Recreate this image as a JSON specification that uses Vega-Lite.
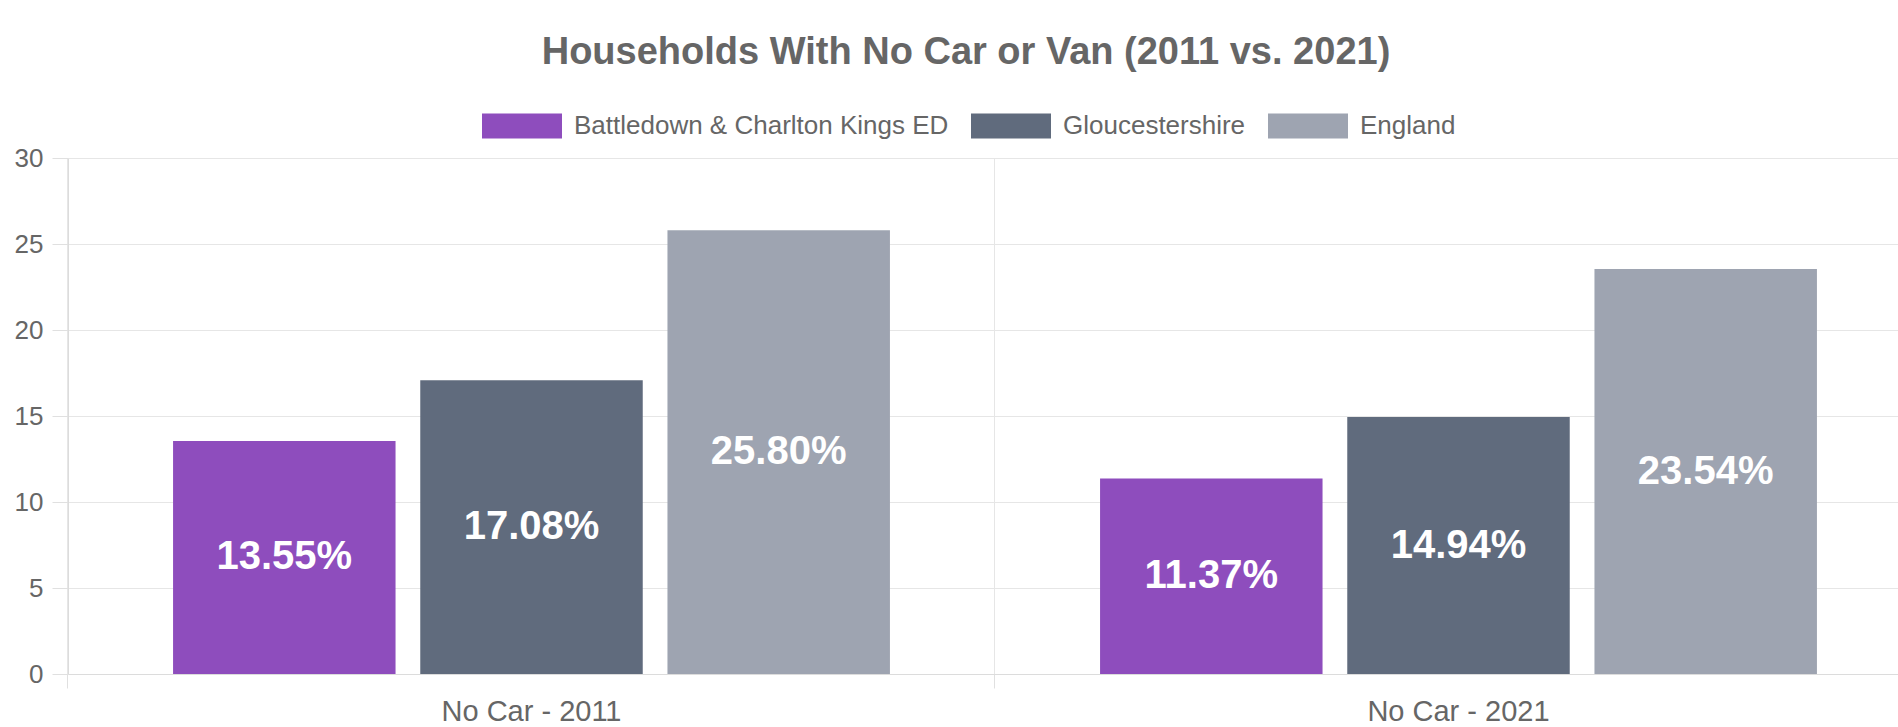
{
  "$schema": "https://vega.github.io/schema/vega-lite/v6.json",
  "autosize": {"type": "none"},
  "padding": {"left": 68, "top": 158, "right": 0, "bottom": 53},
  "width": 1830,
  "height": 516,
  "background": "white",
  "title": {
    "text": "Households With No Car or Van (2011 vs. 2021)",
    "anchor": "middle",
    "frame": "group",
    "font": "Liberation Sans",
    "fontSize": 38,
    "fontWeight": "bold",
    "color": "#666666",
    "dx": -17,
    "offset": 14
  },
  "data": {
    "values": [
      {"category": "No Car - 2011", "area": "Battledown & Charlton Kings ED", "value": 13.55},
      {"category": "No Car - 2011", "area": "Gloucestershire", "value": 17.08},
      {"category": "No Car - 2011", "area": "England", "value": 25.80},
      {"category": "No Car - 2021", "area": "Battledown & Charlton Kings ED", "value": 11.37},
      {"category": "No Car - 2021", "area": "Gloucestershire", "value": 14.94},
      {"category": "No Car - 2021", "area": "England", "value": 23.54}
    ]
  },
  "encoding": {
    "x": {
      "field": "category",
      "type": "nominal",
      "sort": null,
      "scale": {"paddingInner": 0.2, "paddingOuter": 0.1, "range": [0, 1854]},
      "axis": {
        "title": null,
        "labelAngle": 0,
        "bandPosition": -0.125,
        "grid": true,
        "gridColor": "#e6e6e6",
        "ticks": true,
        "tickSize": 14,
        "tickColor": "#e0e0e0",
        "domainColor": "#dcdcdc",
        "labelFont": "Liberation Sans",
        "labelFontSize": 29,
        "labelColor": "#666666",
        "labelBaseline": "alphabetic",
        "labelPadding": 32,
        "labelLimit": 0,
        "labelBound": false,
        "labelOverlap": false
      }
    },
    "xOffset": {
      "field": "area",
      "type": "nominal",
      "sort": ["Battledown & Charlton Kings ED", "Gloucestershire", "England"],
      "scale": {"paddingInner": 0.1, "paddingOuter": 0.05}
    }
  },
  "layer": [
    {
      "mark": {"type": "bar", "opacity": 1},
      "encoding": {
        "y": {
          "field": "value",
          "type": "quantitative",
          "scale": {"domain": [0, 30], "nice": false},
          "axis": {
            "title": null,
            "values": [0, 5, 10, 15, 20, 25, 30],
            "grid": true,
            "gridColor": "#e6e6e6",
            "tickColor": "#e0e0e0",
            "tickSize": 16,
            "domainColor": "#dcdcdc",
            "labelPadding": 9,
            "labelFont": "Liberation Sans",
            "labelFontSize": 26,
            "labelColor": "#666666"
          }
        },
        "color": {
          "field": "area",
          "type": "nominal",
          "sort": ["Battledown & Charlton Kings ED", "Gloucestershire", "England"],
          "scale": {
            "domain": ["Battledown & Charlton Kings ED", "Gloucestershire", "England"],
            "range": ["#8e4dbd", "#606b7d", "#9ea4b1"]
          },
          "legend": {
            "title": null,
            "orient": "none",
            "direction": "horizontal",
            "legendX": 414,
            "legendY": -72,
            "padding": 0,
            "symbolType": "M-1,-0.3125H1V0.3125H-1Z",
            "symbolSize": 6400,
            "symbolStrokeWidth": 0,
            "symbolOpacity": 1,
            "labelFont": "Liberation Sans",
            "labelFontSize": 26,
            "labelColor": "#666666",
            "labelOffset": 12,
            "labelLimit": 0,
            "columnPadding": 22
          }
        }
      }
    },
    {
      "mark": {
        "type": "text",
        "font": "Liberation Sans",
        "fontSize": 40,
        "fontWeight": "bold",
        "color": "white",
        "align": "center",
        "baseline": "middle",
        "text": {"expr": "format(datum.value, '.2f') + '%'"}
      },
      "encoding": {
        "y": {
          "field": "value",
          "type": "quantitative",
          "scale": {"domain": [0, 60], "nice": false},
          "axis": null
        }
      }
    }
  ],
  "resolve": {"scale": {"y": "independent"}},
  "config": {"view": {"stroke": null}}
}
